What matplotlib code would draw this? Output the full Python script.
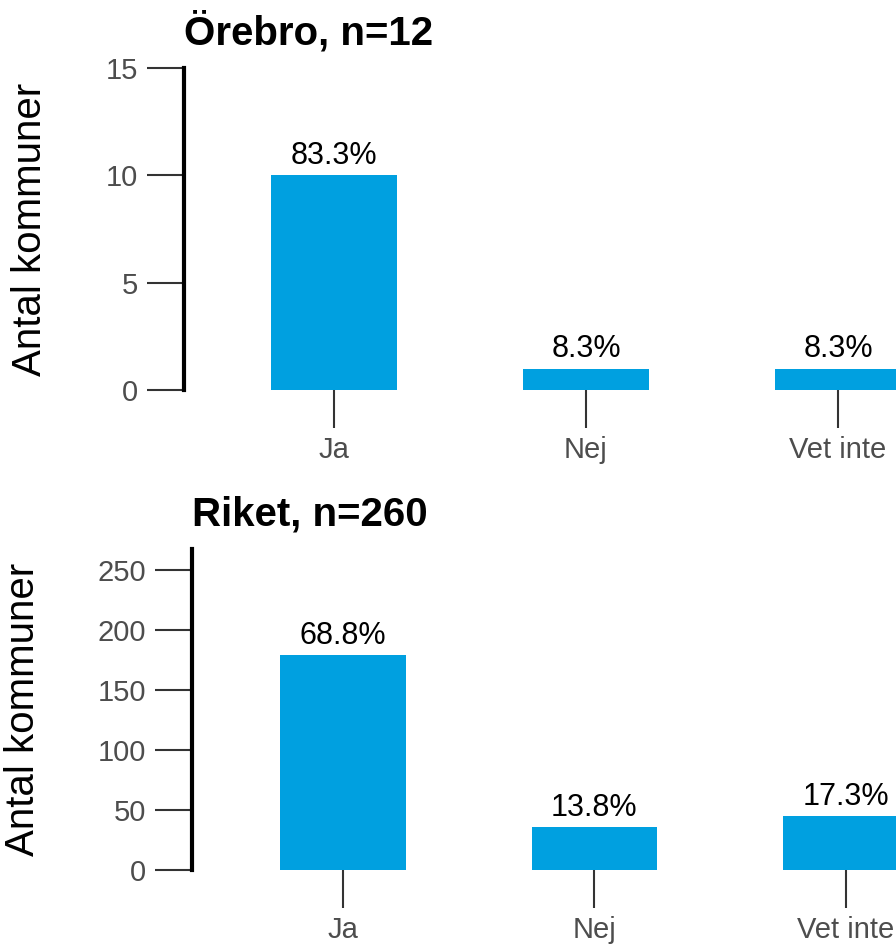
import matplotlib.pyplot as plt

plt.rcParams['font.family'] = ['Liberation Sans', 'DejaVu Sans']

categories = ['Ja', 'Nej', 'Vet inte']
orebro_counts = [10, 1, 1]
orebro_pct = ['83.3%', '8.3%', '8.3%']
riket_counts = [179, 36, 45]
riket_pct = ['68.8%', '13.8%', '17.3%']

panels = [
    ('Örebro, n=12', orebro_counts, orebro_pct, [0, 5, 10, 15], 15),
    ('Riket, n=260', riket_counts, riket_pct, [0, 50, 100, 150, 200, 250], 267.5),
]

# axes boxes in figure fractions, x limits chosen so the right side is cut off
boxes = [
    ([184 / 896, 1 - 390 / 946, 712 / 896, 322 / 946], (-0.595, 2.23), -0.19),
    ([192 / 896, 1 - 870 / 946, 704 / 896, 321 / 946], (-0.600, 2.199), -0.213),
]

BAR = '#00A0E0'
TICK_TXT = '#4D4D4D'
TICK_LINE = '#333333'

fig = plt.figure(figsize=(8.96, 9.46), dpi=100)

for (title, counts, pct, yticks, ymax), (rect, xlim, lab_x) in zip(panels, boxes):
    ax = fig.add_axes(rect)
    x = range(len(categories))
    bars = ax.bar(x, counts, width=0.5, color=BAR)
    for b, lab in zip(bars, pct):
        ax.annotate(lab, (b.get_x() + b.get_width() / 2, b.get_height()),
                    xytext=(0, 3), textcoords='offset points',
                    ha='center', va='bottom', fontsize=22, color='black')

    ax.set_xlim(*xlim)
    ax.set_ylim(0, ymax)
    ax.set_xticks(list(x))
    ax.set_xticklabels(categories)
    ax.set_yticks(yticks)

    for side in ('top', 'right', 'bottom'):
        ax.spines[side].set_visible(False)
    ax.spines['left'].set_linewidth(3)
    ax.spines['left'].set_color('black')

    ax.tick_params(axis='both', direction='out', length=27, width=1.5,
                   color=TICK_LINE, labelcolor=TICK_TXT, labelsize=21, pad=6)

    ax.set_ylabel('Antal kommuner', fontsize=29, color='black')
    ax.yaxis.set_label_coords(lab_x, 0.5)
    ax.set_title(title, loc='left', fontsize=29, fontweight='bold', pad=17)

fig.savefig('out.png', dpi=100)
